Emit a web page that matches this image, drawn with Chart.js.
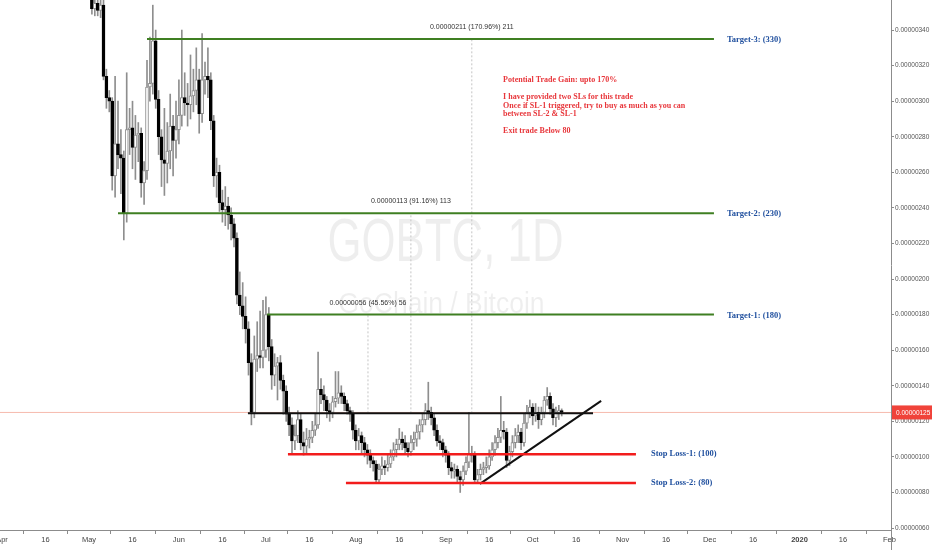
<!DOCTYPE html>
<html>
<head>
<meta charset="utf-8">
<title>GOBTC, 1D</title>
<script src="https://cdn.jsdelivr.net/npm/chart.js@4.4.1/dist/chart.umd.min.js"></script>
<style>
  html, body { margin: 0; padding: 0; background: #fff; }
  #wrap { width: 932px; height: 550px; }
</style>
</head>
<body>
<div id="wrap"><canvas id="chart" width="932" height="550"></canvas></div>
<script>
// Daily candles, prices in satoshi (1e-8 BTC). Day 0 = Apr 1, 2019
const firstCandleDay = 31;

const opens = [
  362, 352, 355, 351, 354, 314, 302, 300, 258, 276,
  270, 268, 237, 284, 285, 274, 281, 282, 254, 261,
  308, 310, 334, 301, 280, 267, 265, 272, 286, 278,
  284, 292, 302, 299, 298, 303, 306, 312, 293, 312,
  314, 312, 289, 258, 260, 243, 239, 241, 236, 231,
  223, 191, 185, 179, 172, 153, 125, 155, 157, 156,
  160, 180, 162, 146, 151, 153, 143, 137, 124, 118,
  109, 112, 121, 108, 106, 110, 111, 115, 118, 138,
  135, 132, 126, 125, 131, 133, 136, 134, 130, 126,
  124, 115, 109, 112, 108, 104, 101, 98, 96, 87,
  93, 95, 94, 96, 100, 104, 107, 110, 108, 105,
  103, 108, 110, 114, 118, 121, 126, 125, 122, 115,
  109, 108, 104, 101, 94, 92, 93, 89, 87, 92,
  97, 102, 101, 87, 90, 93, 94, 95, 100, 104,
  108, 111, 115, 114, 98, 103, 108, 112, 114, 108,
  119, 125, 128, 123, 125, 121, 125, 132, 134, 127,
  122, 125, 126
];
const highs = [
  372, 362, 366, 362, 358, 318, 306, 302, 314, 300,
  284, 272, 316, 296, 300, 292, 288, 285, 266, 323,
  336, 354, 340, 306, 284, 296, 288, 304, 292, 300,
  312, 340, 316, 310, 326, 318, 330, 318, 338, 322,
  330, 316, 292, 268, 264, 250, 252, 246, 240, 234,
  226, 204, 198, 190, 176, 158, 168, 176, 182, 188,
  190, 184, 166, 158, 156, 157, 146, 140, 128, 122,
  118, 126, 124, 114, 116, 115, 120, 124, 159, 144,
  140, 134, 130, 134, 148, 148, 140, 136, 132, 128,
  126, 118, 116, 114, 111, 107, 104, 100, 98, 96,
  100, 98, 102, 104, 108, 110, 116, 114, 112, 108,
  112, 114, 118, 121, 124, 130, 142, 128, 124, 118,
  112, 110, 106, 103, 97, 96, 95, 92, 95, 100,
  125, 106, 103, 93, 96, 97, 100, 104, 108, 112,
  116, 134, 120, 116, 106, 112, 116, 118, 116, 124,
  129, 132, 130, 130, 128, 128, 134, 139, 136, 130,
  128, 129, 127
];
const lows = [
  349, 348, 348, 347, 312, 296, 294, 250, 246, 262,
  248, 222, 232, 270, 262, 256, 266, 246, 242, 256,
  300, 304, 296, 270, 252, 247, 254, 262, 258, 268,
  276, 286, 292, 286, 290, 294, 298, 282, 288, 304,
  302, 284, 252, 246, 238, 232, 230, 228, 222, 218,
  186, 180, 172, 164, 146, 118, 122, 148, 150, 150,
  156, 154, 138, 140, 132, 138, 124, 120, 112, 102,
  104, 108, 104, 101, 102, 105, 108, 112, 116, 130,
  126, 122, 120, 122, 128, 130, 130, 126, 124, 120,
  110, 104, 104, 102, 100, 96, 94, 92, 86, 86,
  90, 90, 92, 94, 98, 100, 104, 104, 102, 100,
  101, 104, 106, 110, 114, 118, 121, 118, 112, 106,
  104, 100, 97, 90, 88, 88, 86, 80, 84, 90,
  94, 97, 85, 85, 87, 90, 91, 93, 98, 101,
  105, 108, 110, 94, 95, 100, 105, 108, 104, 106,
  116, 122, 118, 120, 116, 118, 122, 129, 124, 118,
  117, 121, 123
];
const closes = [
  352, 355, 351, 354, 314, 302, 300, 258, 276, 270,
  268, 237, 284, 285, 274, 281, 282, 254, 261, 308,
  310, 334, 301, 280, 267, 265, 272, 286, 278, 284,
  292, 302, 299, 298, 303, 306, 312, 293, 312, 314,
  312, 289, 258, 260, 243, 239, 241, 236, 231, 223,
  191, 185, 179, 172, 153, 125, 155, 157, 156, 160,
  180, 162, 146, 151, 153, 143, 137, 124, 118, 109,
  112, 121, 108, 106, 110, 111, 115, 118, 138, 135,
  132, 126, 125, 131, 133, 136, 134, 130, 126, 124,
  115, 109, 112, 108, 104, 101, 98, 96, 87, 93,
  95, 94, 96, 100, 104, 107, 110, 108, 105, 103,
  108, 110, 114, 118, 121, 126, 125, 122, 115, 109,
  108, 104, 101, 94, 92, 93, 89, 87, 92, 97,
  102, 101, 87, 90, 93, 94, 95, 100, 104, 108,
  111, 115, 114, 98, 103, 108, 112, 114, 108, 119,
  125, 128, 123, 125, 121, 125, 132, 134, 127, 122,
  125, 126, 125
];

// axis ticks
const xTickDays = [0, 15, 30, 45, 61, 76, 91, 106, 122, 137, 153, 168, 183, 198, 214, 229, 244, 259, 275, 290, 306];
const xTickLabels = ['Apr', '16', 'May', '16', 'Jun', '16', 'Jul', '16', 'Aug', '16', 'Sep', '16', 'Oct', '16', 'Nov', '16', 'Dec', '16', '2020', '16', 'Feb'];
const yTicks = [60, 80, 100, 120, 140, 160, 180, 200, 220, 240, 260, 280, 300, 320, 340];

// drawn levels (price, first day, last day)
const targetLabels = ['Target-3: (330)', 'Target-2: (230)', 'Target-1: (180)'];
const targetPrices = [335, 237, 180];
const targetFrom = [50, 40, 91.4];
const targetTo = [245.5, 245.5, 245.5];

const stopLabels = ['Stop Loss-1: (100)', 'Stop Loss-2: (80)'];
const stopPrices = [101.5, 85.3];
const stopFrom = [98.6, 118.6];
const stopTo = [218.6, 218.6];

const basePrice = 124.5;
const baseFrom = 84.8;
const baseTo = 203.8;
const trendDays = [164.8, 206.6];
const trendPrices = [84.8, 131.5];
const lastPrice = 125;

// measure tool: day, top price, text
const measureDays = [126.2, 141, 162];
const measureTops = [180, 237, 335];
const measureTexts = ['0.00000056 (45.56%) 56', '0.00000113 (91.16%) 113', '0.00000211 (170.96%) 211'];

const noteLines = [
  'Potential Trade Gain: upto 170%',
  '',
  'I have provided two SLs for this trade',
  'Once if SL-1 triggered, try to buy as much as you can',
  'between SL-2 & SL-1',
  '',
  'Exit trade Below 80'
];

const TICK_FONT = "'Liberation Sans', Arial, sans-serif";
const NOTE_FONT = "'Liberation Serif', 'DejaVu Serif', serif";

document.addEventListener('DOMContentLoaded', function() {
  drawChart();
});

function fmtPrice(v) {
  return (v / 1e8).toFixed(8);
}

function segment(x1, y1, x2, y2, color, width, dash) {
  return {
    type: 'line',
    data: [{ x: x1, y: y1 }, { x: x2, y: y2 }],
    borderColor: color,
    borderWidth: width,
    borderDash: dash || [],
    pointRadius: 0,
    fill: false,
    order: 0
  };
}

function squeezed(ctx, text, cx, baseY, font, width) {
  ctx.save();
  ctx.font = font;
  const w = ctx.measureText(text).width;
  ctx.translate(cx, baseY);
  ctx.scale(width / w, 1);
  ctx.textAlign = 'center';
  ctx.fillText(text, 0, 0);
  ctx.restore();
}

const annotations = {
  id: 'annotations',
  beforeDatasetsDraw(chart) {
    const ctx = chart.ctx;
    const area = chart.chartArea;
    const cx = (area.left + area.right) / 2;
    const cy = (area.top + area.bottom) / 2;
    ctx.save();
    ctx.fillStyle = 'rgba(0, 0, 0, 0.065)';
    squeezed(ctx, 'GOBTC, 1D', cx, cy - 4, '61px "Liberation Sans", Arial, sans-serif', 236);
    squeezed(ctx, 'GoChain / Bitcoin', cx - 4, cy + 48, '30px "Liberation Sans", Arial, sans-serif', 206);
    ctx.restore();
  },
  afterDatasetsDraw(chart) {
    const ctx = chart.ctx;
    const xs = chart.scales.x;
    const ys = chart.scales.y;
    ctx.save();

    // blue level labels
    ctx.fillStyle = '#1f4f9e';
    ctx.font = 'bold 8.5px ' + NOTE_FONT;
    ctx.textAlign = 'left';
    ctx.textBaseline = 'middle';
    targetLabels.forEach((t, i) => {
      ctx.fillText(t, xs.getPixelForValue(targetTo[i]) + 13, ys.getPixelForValue(targetPrices[i]) + 1);
    });
    stopLabels.forEach((t, i) => {
      ctx.fillText(t, xs.getPixelForValue(stopTo[i]) + 15, ys.getPixelForValue(stopPrices[i]));
    });

    // measure labels
    ctx.fillStyle = '#333';
    ctx.font = '7px ' + TICK_FONT;
    ctx.textAlign = 'center';
    measureTexts.forEach((t, i) => {
      ctx.fillText(t, xs.getPixelForValue(measureDays[i]), ys.getPixelForValue(measureTops[i]) - 12);
    });

    // red note block
    ctx.fillStyle = '#e8363b';
    ctx.font = 'bold 8px ' + NOTE_FONT;
    ctx.textAlign = 'left';
    const nx = xs.getPixelForValue(172.8);
    let ny = ys.getPixelForValue(312);
    noteLines.forEach((t) => {
      if (t === '') { ny += 9; return; }
      ctx.fillText(t, nx, ny);
      ny += 8.3;
    });
    ctx.restore();
  },
  afterDraw(chart) {
    const ctx = chart.ctx;
    const area = chart.chartArea;
    const ys = chart.scales.y;
    ctx.save();
    // axis line runs to the bottom edge
    ctx.strokeStyle = '#8c8c8c';
    ctx.lineWidth = 1;
    ctx.beginPath();
    ctx.moveTo(area.right + 0.5, area.bottom);
    ctx.lineTo(area.right + 0.5, chart.height);
    ctx.stroke();
    // last price tag
    const py = ys.getPixelForValue(lastPrice);
    ctx.fillStyle = '#f0433a';
    ctx.fillRect(area.right + 1, py - 7, chart.width - area.right - 1, 14);
    ctx.fillStyle = '#fff';
    ctx.font = '6.5px ' + TICK_FONT;
    ctx.textAlign = 'left';
    ctx.textBaseline = 'middle';
    ctx.fillText(fmtPrice(lastPrice), area.right + 5, py + 0.5);
    ctx.restore();
  }
};

function drawChart() {
  const days = opens.map((_, i) => firstCandleDay + i);
  const isUp = closes.map((c, i) => c >= opens[i]);

  const datasets = [];

  // levels and tools
  targetPrices.forEach((p, i) => datasets.push(segment(targetFrom[i], p, targetTo[i], p, '#3f7f22', 2)));
  stopPrices.forEach((p, i) => datasets.push(segment(stopFrom[i], p, stopTo[i], p, '#f21c1c', 2.5)));
  datasets.push(segment(baseFrom, basePrice, baseTo, basePrice, '#111', 2));
  datasets.push(segment(trendDays[0], trendPrices[0], trendDays[1], trendPrices[1], '#111', 2));
  measureDays.forEach((d, i) => datasets.push(segment(d, basePrice, d, measureTops[i], '#c4c4c4', 1, [2, 2])));
  const lastLine = segment(-1, lastPrice, 310, lastPrice, 'rgba(240, 140, 120, 0.6)', 1);
  lastLine.order = 5;
  datasets.push(lastLine);

  // candle wicks
  datasets.push({
    type: 'bar',
    data: days.map((d, i) => ({ x: d, y: [lows[i], highs[i]] })),
    backgroundColor: '#8e8e8e',
    barThickness: 1,
    grouped: false,
    order: 3
  });
  // candle bodies
  datasets.push({
    type: 'bar',
    data: days.map((d, i) => ({ x: d, y: [opens[i], closes[i]] })),
    backgroundColor: isUp.map(u => u ? '#ffffff' : '#000000'),
    borderColor: isUp.map(u => u ? '#8e8e8e' : '#000000'),
    borderWidth: 1,
    borderSkipped: false,
    barThickness: 3,
    minBarLength: 1,
    grouped: false,
    order: 2
  });

  const ctx = document.getElementById('chart').getContext('2d');
  new Chart(ctx, {
    type: 'bar',
    data: { datasets: datasets },
    options: {
      responsive: false,
      animation: false,
      layout: { padding: 0 },
      plugins: {
        legend: { display: false },
        tooltip: { enabled: false }
      },
      scales: {
        x: {
          type: 'linear',
          position: 'bottom',
          min: -0.69,
          max: 306.55,
          offset: false,
          grid: { drawOnChartArea: false, tickLength: 4, color: '#8c8c8c' },
          border: { color: '#8c8c8c' },
          ticks: {
            autoSkip: false,
            maxRotation: 0,
            padding: 1,
            color: '#444',
            font: (c) => ({
              family: TICK_FONT,
              size: 7.5,
              weight: c.tick && c.tick.label === '2020' ? 'bold' : 'normal'
            }),
            callback: (v, i) => xTickLabels[i]
          },
          afterBuildTicks: (s) => { s.ticks = xTickDays.map(v => ({ value: v })); },
          afterFit: (s) => { s.height = 20; s.paddingLeft = 0; s.paddingRight = 0; }
        },
        y: {
          type: 'linear',
          position: 'right',
          min: 58.9,
          max: 356.9,
          grid: { drawOnChartArea: false, tickLength: 3, color: '#8c8c8c' },
          border: { color: '#8c8c8c' },
          ticks: {
            padding: 1,
            color: '#555',
            font: { family: TICK_FONT, size: 6.5 },
            callback: (v) => fmtPrice(v)
          },
          afterBuildTicks: (s) => { s.ticks = yTicks.map(v => ({ value: v })); },
          afterFit: (s) => { s.width = 41; s.paddingTop = 0; s.paddingBottom = 0; }
        }
      }
    },
    plugins: [annotations]
  });
}
</script>
</body>
</html>
